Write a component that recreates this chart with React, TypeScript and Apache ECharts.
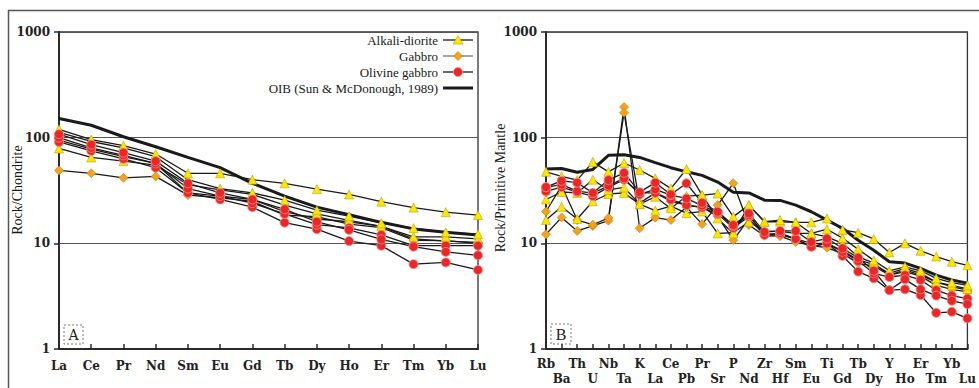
import React, { useEffect, useRef } from "react";
import * as echarts from "echarts";

// ---------- categories ----------
const reeCats = ["La", "Ce", "Pr", "Nd", "Sm", "Eu", "Gd", "Tb", "Dy", "Ho", "Er", "Tm", "Yb", "Lu"];
const spiderCats = ["Rb", "Ba", "Th", "U", "Nb", "Ta", "K", "La", "Ce", "Pb", "Pr", "Sr", "P", "Nd", "Zr", "Hf", "Sm", "Eu", "Ti", "Gd", "Tb", "Dy", "Y", "Ho", "Er", "Tm", "Yb", "Lu"];
const yTicks = [1, 10, 100, 1000];

// ---------- A: chondrite-normalized REE ----------
const oibRee = [152, 131, 102, 82, 65, 52, 37, 28, 22, 18.7, 15.8, 13.7, 12.7, 12];
const ad1Ree = [120, 96, 84, 70, 46, 46, 40, 37, 32.6, 29, 24.8, 21.8, 19.7, 18.5];
const ad2Ree = [112, 92, 80, 66, 40, 33, 30, 25.6, 20.6, 18.1, 15.5, 13.9, 12.7, 12.2];
const ad3Ree = [79, 65, 60, 55, 36, 32, 29, 23, 19, 16.5, 14.5, 11.5, 11.5, 11];
const g1Ree = [49, 46, 41.7, 43, 28.6, 27, 25, 18.5, 17.9, 15.2, 14.1, 10.7, 10.6, 10.0];
const g2Ree = [95, 78, 66, 57, 30, 28, 26, 20, 17, 16, 14.5, 11, 10.5, 10.2];
const og1Ree = [108, 86, 72, 60, 37, 30, 26, 21, 16, 13.4, 10.9, 9.3, 8.3, 7.7];
const og2Ree = [100, 80, 68, 57, 33, 28, 24, 19, 15, 14, 12, 9.5, 9.5, 9.5];
const og3Ree = [91, 75, 63, 52, 30, 26, 22, 15.7, 13.6, 10.5, 9.5, 6.35, 6.6, 5.6];

// ---------- B: primitive-mantle-normalized spider ----------
const oibSp = [50.5, 51, 47, 50, 68, 69, 65, 58, 52, 47.5, 44, 38, 30.5, 30, 25.6, 25.5, 23, 19.9, 16.6, 13.9, 10.7, 8.6, 6.7, 6.5, 5.8, 5.0, 4.5, 4.2];
const ad1Sp = [47.5, 43, 39.7, 59, 47.5, 57.6, 49.4, 41.2, 33, 50.5, 28.6, 29.6, 17.9, 23, 16, 16.6, 15.8, 15.8, 17.2, 13.4, 12.6, 11, 8.2, 10, 8.5, 7.5, 6.7, 6.2];
const ad2Sp = [26, 30.6, 30, 40, 32, 33.8, 23.5, 27.6, 21.4, 28, 28.6, 17.2, 12.4, 23, 16, 16, 15.8, 12.4, 13.6, 11.2, 8.8, 6.9, 5.5, 6.0, 5.5, 4.66, 4.24, 4.0];
const ad3Sp = [16.6, 22.2, 17, 25, 29.3, 30, 23.5, 20.4, 22.5, 19.3, 20, 12.4, 12.6, 16, 13, 13, 12.4, 12.4, 11.5, 10, 7.5, 6.5, 5.0, 5.6, 5.0, 4.3, 4.0, 3.7];
const g1Sp = [12.2, 17.6, 13.1, 14.6, 16.4, 195, 13.9, 17.5, 16.6, 22, 15.2, 23, 37, 14.9, 11.8, 11.7, 10.3, 9.5, 9.1, 8.0, 6.5, 6.1, 5.0, 5.4, 4.9, 4.0, 3.67, 3.48];
const g2Sp = [20, 35, 16.6, 15, 17.4, 172, 24, 30, 25, 23, 22, 18, 10.7, 17, 12, 12, 11, 10, 10, 8.5, 7, 6.3, 5.2, 5.8, 5.2, 4.3, 3.9, 3.6];
const og1Sp = [34, 39, 37.5, 30, 39.7, 46.5, 30.5, 37.5, 29, 37, 24.2, 19.9, 14.9, 19.2, 12.8, 13.1, 13.1, 10.3, 11.1, 8.97, 7.3, 5.5, 3.6, 4.56, 3.67, 3.2, 2.86, 2.66];
const og2Sp = [34, 36, 31.2, 29.8, 35, 41.2, 29, 32.4, 28.6, 26.6, 22.7, 19.5, 14.6, 18.5, 12, 12.5, 11, 9.3, 10, 8.3, 6.8, 5.2, 4.8, 5.0, 4.5, 3.6, 3.2, 3.0];
const og3Sp = [31, 34, 30.6, 28, 34, 40, 30, 30, 26, 23, 21.8, 19, 14, 18, 12.3, 12.2, 11, 9.3, 10, 7.6, 5.4, 4.66, 3.6, 3.67, 3.24, 2.2, 2.25, 1.95];

const legendNames = ["Alkali-diorite", "Gabbro", "Olivine gabbro", "OIB (Sun & McDonough, 1989)"];

const STY: any = {
  ad: { symbol: "triangle", symbolSize: 9, itemStyle: { color: "#FFE600", borderColor: "#B9A200", borderWidth: 0.6 } },
  g: { symbol: "diamond", symbolSize: 9, itemStyle: { color: "#F4A21C", borderColor: "#C77C00", borderWidth: 0.6 } },
  og: { symbol: "circle", symbolSize: 9, itemStyle: { color: "#EC2626", borderColor: "#F39088", borderWidth: 0.8 } },
};

const SERIF = "Liberation Serif";
const BOLDSERIF = "DejaVu Serif";

function sampleSeries(kind: string, data: number[], axis: number) {
  const s = STY[kind];
  return {
    type: "line",
    xAxisIndex: axis,
    yAxisIndex: axis,
    data,
    symbol: s.symbol,
    symbolSize: s.symbolSize,
    itemStyle: s.itemStyle,
    lineStyle: { color: "#1a1a1a", width: 1.3 },
    z: 3,
    silent: true,
  };
}

function oibSeries(data: number[], axis: number) {
  return {
    type: "line",
    xAxisIndex: axis,
    yAxisIndex: axis,
    data,
    symbol: "none",
    lineStyle: { color: "#1a1a1a", width: 3 },
    z: 2,
    silent: true,
  };
}

function makeY(idx: number) {
  return {
    type: "log",
    gridIndex: idx,
    logBase: 10,
    min: 1,
    max: 1000,
    axisLine: { show: true, lineStyle: { color: "#2a2a2a", width: 2 } },
    axisTick: { show: true, length: 5, lineStyle: { color: "#2a2a2a", width: 1.5 } },
    axisLabel: {
      fontFamily: BOLDSERIF,
      fontWeight: "bold",
      fontSize: 12,
      color: "#222",
      margin: 9,
      formatter: (v: number) => (yTicks.indexOf(Math.round(v)) >= 0 ? String(Math.round(v)) : ""),
    },
    splitLine: { show: true, lineStyle: { color: "#555", width: 1 } },
    minorTick: { show: false },
  };
}

function legendGraphic() {
  const els: any[] = [];
  const ys = [40, 56, 72, 88];
  const xr = 438;
  legendNames.forEach((n, i) => {
    const y = ys[i];
    els.push({ type: "text", x: xr, y, style: { text: n, fontFamily: SERIF, fontSize: 13, fill: "#1a1a1a", textAlign: "right", textVerticalAlign: "middle" } });
    els.push({ type: "line", shape: { x1: 443, y1: y, x2: 473, y2: y }, style: { stroke: i === 1 ? "#777" : "#1a1a1a", lineWidth: i === 3 ? 3 : 1.3 } });
  });
  els.push({ type: "polygon", shape: { points: [[458, 35.5], [463, 44], [453, 44]] }, style: { fill: "#FFE600", stroke: "#B9A200", lineWidth: 0.6 } });
  els.push({ type: "polygon", shape: { points: [[458, 51.5], [462.5, 56], [458, 60.5], [453.5, 56]] }, style: { fill: "#F4A21C", stroke: "#C77C00", lineWidth: 0.6 } });
  els.push({ type: "circle", shape: { cx: 458, cy: 72, r: 4.5 }, style: { fill: "#EC2626", stroke: "#F39088", lineWidth: 0.8 } });
  return els;
}

export default function App() {
  const ref = useRef<HTMLDivElement>(null);
  useEffect(() => {
    if (!ref.current) return;
    const chart = echarts.init(ref.current, null, { renderer: "svg" });
    const option: any = {
      animation: false,
      backgroundColor: "#ffffff",
      grid: [
        { left: 59, right: 501, top: 32, bottom: 39, show: true, borderColor: "#333", borderWidth: 1.3, backgroundColor: "transparent" },
        { left: 546, right: 10, top: 32, bottom: 39, show: true, borderColor: "#333", borderWidth: 1.3, backgroundColor: "transparent" },
      ],
      xAxis: [
        {
          type: "category",
          gridIndex: 0,
          data: reeCats,
          boundaryGap: false,
          axisLine: { show: true, lineStyle: { color: "#2a2a2a", width: 2 } },
          axisTick: { show: true, inside: true, length: 5, interval: 0, lineStyle: { color: "#2a2a2a", width: 1.5 } },
          axisLabel: { interval: 0, fontFamily: BOLDSERIF, fontWeight: "bold", fontSize: 12, color: "#222", margin: 11 },
          splitLine: { show: false },
        },
        {
          type: "category",
          gridIndex: 1,
          data: spiderCats,
          boundaryGap: false,
          axisLine: { show: true, lineStyle: { color: "#2a2a2a", width: 2 } },
          axisTick: { show: true, inside: true, length: 5, interval: 0, lineStyle: { color: "#2a2a2a", width: 1.5 } },
          axisLabel: {
            interval: 0,
            fontFamily: BOLDSERIF,
            fontWeight: "bold",
            fontSize: 12,
            color: "#222",
            margin: 7,
            lineHeight: 15,
            formatter: (v: string, i: number) => (i % 2 === 1 ? "\n" + v : v),
          },
          splitLine: { show: false },
        },
      ],
      yAxis: [makeY(0), makeY(1)],
      series: [
        oibSeries(oibRee, 0),
        sampleSeries("g", g1Ree, 0),
        sampleSeries("g", g2Ree, 0),
        sampleSeries("ad", ad3Ree, 0),
        sampleSeries("ad", ad2Ree, 0),
        sampleSeries("ad", ad1Ree, 0),
        sampleSeries("og", og3Ree, 0),
        sampleSeries("og", og2Ree, 0),
        sampleSeries("og", og1Ree, 0),
        oibSeries(oibSp, 1),
        sampleSeries("g", g1Sp, 1),
        sampleSeries("g", g2Sp, 1),
        sampleSeries("ad", ad3Sp, 1),
        sampleSeries("ad", ad2Sp, 1),
        sampleSeries("ad", ad1Sp, 1),
        sampleSeries("og", og3Sp, 1),
        sampleSeries("og", og2Sp, 1),
        sampleSeries("og", og1Sp, 1),
      ],
      graphic: [
        { type: "line", shape: { x1: 8, y1: 10.5, x2: 979, y2: 10.5 }, style: { stroke: "#555", lineWidth: 1.5 } },
        { type: "line", shape: { x1: 8.5, y1: 10, x2: 8.5, y2: 388 }, style: { stroke: "#555", lineWidth: 1.5 } },
        { type: "text", x: 17, y: 190, rotation: Math.PI / 2, style: { text: "Rock/Chondrite", fontFamily: SERIF, fontSize: 14, fill: "#1a1a1a", textAlign: "center", textVerticalAlign: "middle" } },
        { type: "text", x: 500, y: 188, rotation: Math.PI / 2, style: { text: "Rock/Primitive Mantle", fontFamily: SERIF, fontSize: 14, fill: "#1a1a1a", textAlign: "center", textVerticalAlign: "middle" } },
        { type: "rect", shape: { x: 64, y: 325, width: 19, height: 19 }, style: { fill: "none", stroke: "#777", lineWidth: 1, lineDash: [2, 2] } },
        { type: "text", x: 73.5, y: 335, style: { text: "A", fontFamily: BOLDSERIF, fontSize: 14, fill: "#222", textAlign: "center", textVerticalAlign: "middle" } },
        { type: "rect", shape: { x: 551, y: 324, width: 20, height: 20 }, style: { fill: "none", stroke: "#777", lineWidth: 1, lineDash: [2, 2] } },
        { type: "text", x: 561, y: 334, style: { text: "B", fontFamily: SERIF, fontSize: 16, fill: "#222", textAlign: "center", textVerticalAlign: "middle" } },
        ...legendGraphic(),
      ],
    };
    chart.setOption(option);
    return () => chart.dispose();
  }, []);
  return <div ref={ref} style={{ position: "fixed", left: 0, top: 0, width: 979, height: 388 }} />;
}
